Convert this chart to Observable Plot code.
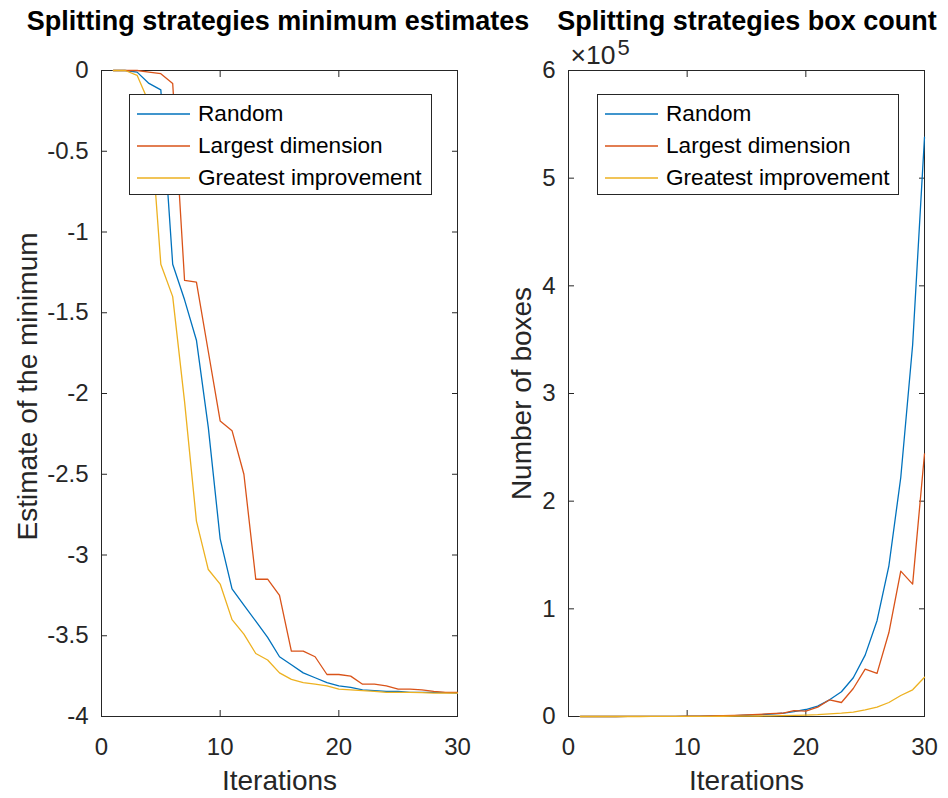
<!DOCTYPE html>
<html>
<head>
<meta charset="utf-8">
<script src="https://cdn.jsdelivr.net/npm/d3@7"></script>
<script src="https://cdn.jsdelivr.net/npm/@observablehq/plot@0.6"></script>
<style>
  body { margin: 0; background: #fff; }
  #fig { position: relative; width: 948px; height: 798px; overflow: hidden;
         font-family: "Liberation Sans", Arial, Helvetica, sans-serif; color: #262626; }
  .panel { position: absolute; top: 0; }
  .title { position: absolute; top: 6px; font-weight: bold; font-size: 27px; color: #000;
           white-space: nowrap; transform: translateX(-50%); }
  .legend { position: absolute; box-sizing: border-box; border: 1px solid #262626; background: #fff; }
  .legend .row { position: absolute; left: 0; height: 32px; display: flex; align-items: center; }
  .legend .row svg { margin-left: 7px; }
  .legend .row span { margin-left: 8px; font-size: 22.6px; color: #000; white-space: nowrap; }
</style>
</head>
<body>
<div id="fig"></div>
<script>
// Iteration index shared by both panels
const iterations = [1, 2, 3, 4, 5, 6, 7, 8, 9, 10, 11, 12, 13, 14, 15,
                    16, 17, 18, 19, 20, 21, 22, 23, 24, 25, 26, 27, 28, 29, 30];

const strategies = ["Random", "Largest dimension", "Greatest improvement"];
const colors = ["#0072BD", "#D95319", "#EDB120"];

// Estimate of the minimum per iteration
const minRandom = [0, 0, -0.01, -0.08, -0.12, -1.20, -1.42, -1.67, -2.21, -2.90,
                   -3.21, -3.31, -3.41, -3.51, -3.63, -3.68, -3.73, -3.76, -3.79, -3.81,
                   -3.82, -3.835, -3.84, -3.845, -3.845, -3.85, -3.85, -3.85, -3.852, -3.855];
const minLargest = [0, 0, 0, -0.01, -0.02, -0.08, -1.30, -1.31, -1.74, -2.17,
                    -2.23, -2.50, -3.15, -3.15, -3.25, -3.595, -3.595, -3.63, -3.74, -3.74,
                    -3.75, -3.80, -3.80, -3.81, -3.83, -3.83, -3.835, -3.845, -3.85, -3.85];
const minGreatest = [0, 0, -0.03, -0.20, -1.20, -1.40, -2.05, -2.79, -3.09, -3.18,
                     -3.40, -3.49, -3.61, -3.65, -3.73, -3.77, -3.79, -3.80, -3.81, -3.83,
                     -3.835, -3.84, -3.845, -3.85, -3.85, -3.85, -3.852, -3.855, -3.855, -3.855];

// Number of boxes per iteration
const boxRandom = [1, 3, 7, 15, 30, 50, 80, 120, 170, 240,
                   330, 450, 620, 850, 1150, 1600, 2200, 3000, 4500, 6500,
                   9600, 15500, 23000, 36000, 57000, 89000, 140000, 222000, 345000, 538000];
const boxLargest = [1, 3, 7, 15, 30, 50, 80, 120, 180, 260,
                    380, 550, 800, 1100, 1500, 2000, 2600, 3000, 5500, 5000,
                    8700, 15500, 13000, 26000, 44000, 40000, 78000, 135000, 123000, 244000];
const boxGreatest = [1, 2, 4, 8, 14, 22, 32, 45, 62, 85,
                     115, 155, 210, 280, 370, 480, 620, 800, 1000, 1300,
                     1700, 2500, 3100, 4100, 6200, 8700, 13000, 19500, 24800, 36500];

// Axis ticks
const xTicks = [0, 10, 20, 30];
const minTicks = [0, -0.5, -1, -1.5, -2, -2.5, -3, -3.5, -4];
const boxTicks = [0, 100000, 200000, 300000, 400000, 500000, 600000];

const ink = "#262626";
const font = "Liberation Sans, Arial, Helvetica, sans-serif";

function longTable(seriesList) {
  return seriesList.flatMap((vals, k) =>
    iterations.map((it, i) => ({iteration: it, value: vals[i], strategy: strategies[k]})));
}

function boxedAxes(yTicks, yFormat) {
  return [
    Plot.frame({stroke: ink, strokeWidth: 1}),
    // tick labels
    Plot.axisX(xTicks, {tickSize: 0, tickPadding: 21, fontSize: 24, fill: ink, label: null, tickFormat: d => String(d)}),
    Plot.axisY(yTicks, {tickSize: 0, tickPadding: 13, fontSize: 24, fill: ink, label: null, tickFormat: yFormat}),
    // inward ticks on all four sides
    Plot.axisX(xTicks, {anchor: "bottom", tickSize: -6, stroke: ink, tickFormat: () => "", label: null}),
    Plot.axisX(xTicks, {anchor: "top", tickSize: -6, stroke: ink, tickFormat: () => "", label: null}),
    Plot.axisY(yTicks, {anchor: "left", tickSize: -6, stroke: ink, tickFormat: () => "", label: null}),
    Plot.axisY(yTicks, {anchor: "right", tickSize: -6, stroke: ink, tickFormat: () => "", label: null})
  ];
}

function axisTitles(yLabel, yLabelDx, yLabelDy) {
  return [
    Plot.text(["Iterations"], {frameAnchor: "bottom", lineAnchor: "bottom", dy: 73, fontSize: 28, fill: ink}),
    Plot.text([yLabel], {frameAnchor: "left", textAnchor: "middle", lineAnchor: "middle",
                         dx: yLabelDx, dy: yLabelDy, rotate: -90, fontSize: 28, fill: ink})
  ];
}

const leftPlot = Plot.plot({
  width: 474, height: 798,
  marginLeft: 101, marginRight: 17, marginTop: 70, marginBottom: 82,
  style: {fontFamily: font, background: "transparent", overflow: "visible"},
  x: {domain: [0, 30]},
  y: {domain: [-4, 0]},
  color: {domain: strategies, range: colors},
  marks: [
    ...boxedAxes(minTicks, d => String(d)),
    Plot.line(longTable([minRandom, minLargest, minGreatest]),
      {x: "iteration", y: "value", stroke: "strategy", strokeWidth: 1.3}),
    ...axisTitles("Estimate of the minimum", -73, -7)
  ]
});

const rightPlot = Plot.plot({
  width: 474, height: 798,
  marginLeft: 94, marginRight: 24, marginTop: 70, marginBottom: 82,
  style: {fontFamily: font, background: "transparent", overflow: "visible"},
  x: {domain: [0, 30]},
  y: {domain: [0, 600000]},
  color: {domain: strategies, range: colors},
  marks: [
    ...boxedAxes(boxTicks, d => String(d / 100000)),
    Plot.line(longTable([boxRandom, boxLargest, boxGreatest]),
      {x: "iteration", y: "value", stroke: "strategy", strokeWidth: 1.3}),
    ...axisTitles("Number of boxes", -46, 0),
    // exponent for the y axis
    Plot.text(["\u00d710"], {frameAnchor: "top-left", textAnchor: "start", lineAnchor: "bottom",
                             dx: 2, dy: -7, fontSize: 26.5, fill: ink}),
    Plot.text(["5"], {frameAnchor: "top-left", textAnchor: "start", lineAnchor: "bottom",
                      dx: 49, dy: -16, fontSize: 22, fill: ink})
  ]
});

const fig = document.getElementById("fig");

function place(node, left) {
  const wrap = document.createElement("div");
  wrap.className = "panel";
  wrap.style.left = left + "px";
  wrap.appendChild(node);
  fig.appendChild(wrap);
}
place(leftPlot, 0);
place(rightPlot, 474);

function addTitle(text, cx) {
  const t = document.createElement("div");
  t.className = "title";
  t.style.left = cx + "px";
  t.textContent = text;
  fig.appendChild(t);
}
addTitle("Splitting strategies minimum estimates", 278);
addTitle("Splitting strategies box count", 747);

function addLegend(left, top, width) {
  const box = document.createElement("div");
  box.className = "legend";
  Object.assign(box.style, {left: left + "px", top: top + "px", width: width + "px", height: "101px"});
  strategies.forEach((name, k) => {
    const row = document.createElement("div");
    row.className = "row";
    row.style.top = (3 + 32 * k) + "px";
    row.innerHTML = `<svg width="53" height="4"><line x1="0" x2="53" y1="2" y2="2" stroke="${colors[k]}" stroke-width="1.3"/></svg><span>${name}</span>`;
    box.appendChild(row);
  });
  fig.appendChild(box);
}
addLegend(129, 94, 303);
addLegend(597, 94, 302);
</script>
</body>
</html>
